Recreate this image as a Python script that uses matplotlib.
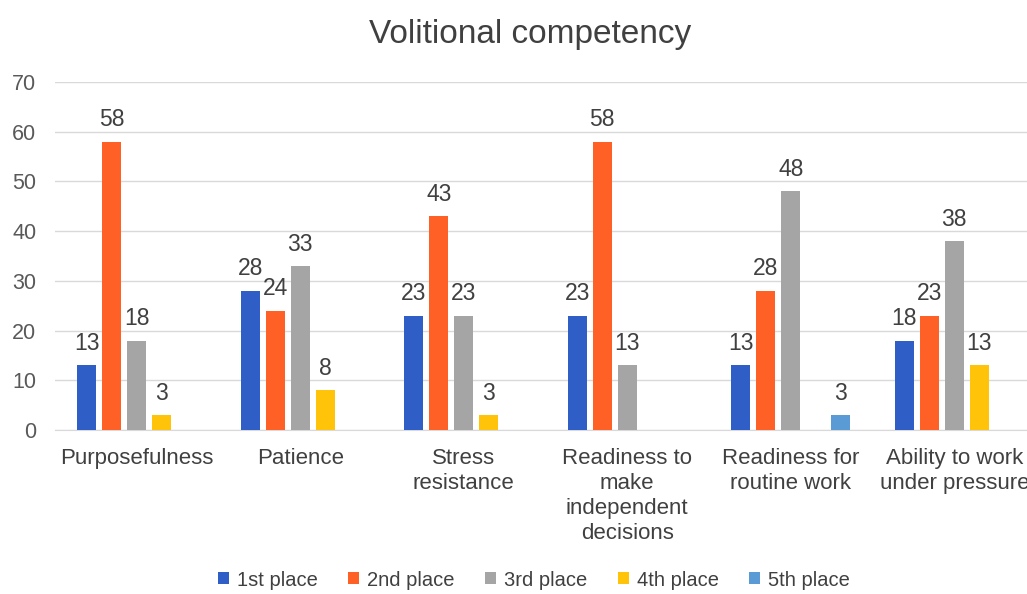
import matplotlib
matplotlib.use("Agg")
import matplotlib.pyplot as plt
import numpy as np
from matplotlib.patches import Patch

plt.rcParams['font.family'] = ['Liberation Sans', 'DejaVu Sans']

categories = ["Purposefulness", "Patience", "Stress\nresistance",
              "Readiness to\nmake\nindependent\ndecisions",
              "Readiness for\nroutine work", "Ability to work\nunder pressure"]
series_names = ["1st place", "2nd place", "3rd place", "4th place", "5th place"]
first = [13, 28, 23, 23, 13, 18]
second = [58, 24, 43, 58, 28, 23]
third = [18, 33, 23, 13, 48, 38]
fourth = [3, 8, 3, 0, 0, 13]
fifth = [0, 0, 0, 0, 3, 0]
series = [first, second, third, fourth, fifth]
colors = ["#2F5FC6", "#FF6026", "#A5A5A5", "#FFC30A", "#5B9BD5"]
yticks = [0, 10, 20, 30, 40, 50, 60, 70]

fig = plt.figure(figsize=(10.27, 5.94), dpi=100)
ax = fig.add_axes([55/1027, 164/594, 981/1027, 348/594])

x = np.arange(len(categories))
step = 0.153
width = 0.117
for i, (vals, c) in enumerate(zip(series, colors)):
    pos = x + (i - 2) * step
    ax.bar(pos, vals, width=width, color=c, zorder=3)
    for p, v in zip(pos, vals):
        if v:
            ax.text(p, v + 4.4, str(v), ha='center', va='center',
                    fontsize=16.5, color='#404040')

ax.set_xlim(-0.5, len(categories) - 0.5)
ax.set_ylim(0, 70)
ax.set_yticks(yticks)
ax.yaxis.grid(True, color='#D9D9D9', linewidth=1, zorder=0)
for s in ['top', 'right', 'left']:
    ax.spines[s].set_visible(False)
ax.spines['bottom'].set_color('#D9D9D9')
ax.tick_params(axis='y', length=0, pad=13.5, labelsize=15.5, labelcolor='#595959')
ax.tick_params(axis='x', length=0, pad=13, labelsize=16, labelcolor='#404040')
ax.set_xticks(x)
ax.set_xticklabels(categories, linespacing=1.25, va='top')

fig.text(530/1027, 1 - 35/594, "Volitional competency", ha='center', va='center',
         fontsize=24, color='#404040')

handles = [Patch(facecolor=c, label=n) for c, n in zip(colors, series_names)]
fig.legend(handles=handles, loc='center', bbox_to_anchor=(534/1027, 1 - 580/594),
           ncol=5, frameon=False, fontsize=14.5, handlelength=0.55, handleheight=0.55,
           handletextpad=0.4, columnspacing=1.5, labelcolor='#404040')

fig.savefig("out.png", dpi=100)
